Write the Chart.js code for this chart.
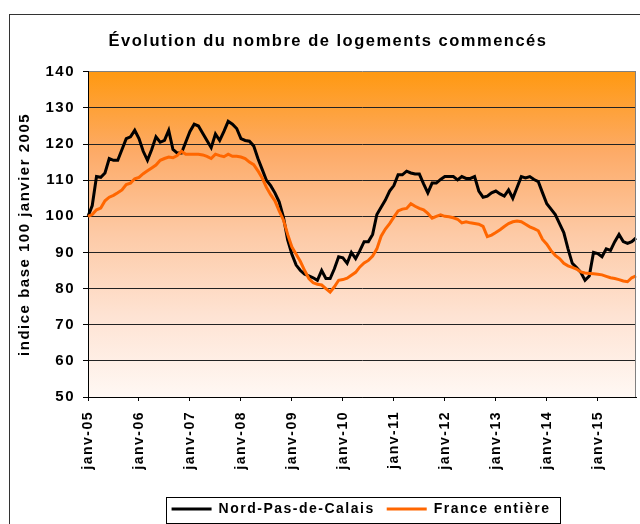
<!doctype html>
<html>
    <head>
        <meta charset="utf-8">
        <script src="https://cdn.jsdelivr.net/npm/chart.js"></script>
        <style>
            body {
                margin: 0px;
                background-color: white;
            }
            #box {
                width: 640px;
                height: 524px;
            }
        </style>
    </head>
    <body>
        <div id="box">
            <canvas id="myChart"></canvas>
        </div>

        <script>
        // monthly index, base 100 = janvier 2005
        const months = ['janv', 'févr', 'mars', 'avr', 'mai', 'juin', 'juil', 'août', 'sept', 'oct', 'nov', 'déc'];
        const years = ['05', '06', '07', '08', '09', '10', '11', '12', '13', '14', '15'];

        const nordPasDeCalais = [
            100, 103, 111, 110.8, 112, 116, 115.5, 115.5, 118.5, 121.5, 122, 123.8,
            121.5, 118, 115.5, 118.5, 122, 120.5, 121, 123.8, 118.5, 117.5, 117.5, 120.5,
            123.5, 125.5, 125, 123, 121, 119, 122.8, 121, 123.5, 126.3, 125.5, 124.3,
            121.5, 121, 120.8, 119.5, 116, 113, 110, 108.5, 106.5, 104, 99.8, 93.5,
            89.5, 86.5, 85, 84, 83.5, 83, 82.3, 85, 82.8, 82.8, 85.5, 88.8,
            88.5, 87, 90, 88.3, 90.5, 93, 93, 95, 100.5, 102.5, 104.5, 107,
            108.5, 111.5, 111.5, 112.5, 112, 111.7, 111.7, 109, 106.5, 109.2, 109.2, 110.2,
            111, 111, 111, 110.1, 111, 110.5, 110.5, 111, 107, 105.3, 105.6, 106.5,
            107, 106.2, 105.6, 107.3, 105, 108, 111, 110.6, 111, 110.2, 109.6, 106.5,
            103.5, 102, 100.5, 98, 95.5, 91, 87, 85.8, 84.5, 82.3, 83.5, 90,
            89.7, 88.8, 91, 90.6, 93, 95, 93, 92.5, 93, 94
        ];

        const franceEntiere = [
            100, 100.5, 101.8, 102.3, 104.3, 105.3, 105.8, 106.5, 107.3, 108.8, 109.2, 110.4,
            110.8, 111.8, 112.6, 113.4, 114.2, 115.5, 116, 116.4, 116.2, 116.8, 118, 117.2,
            117.2, 117.2, 117.2, 117, 116.6, 116, 117.2, 116.8, 116.5, 117.2, 116.6, 116.6,
            116.4, 116, 115, 114.3, 112.6, 110.6, 108, 106, 104.3, 101.5, 99, 95,
            91.5, 89.5, 87.5, 85, 82.8, 81.6, 81.2, 81, 80, 79, 80.5, 82.3,
            82.5, 82.9, 83.7, 84.5, 86, 87.1, 87.8, 89, 91, 94.5, 96.5, 98,
            99.8, 101.5, 102, 102.2, 103.5, 102.8, 102.2, 101.8, 100.8, 99.5, 100, 100.4,
            100, 99.9, 99.6, 99.2, 98.2, 98.5, 98.2, 98, 97.8, 97.2, 94.4, 94.8,
            95.5, 96.3, 97.2, 98, 98.5, 98.7, 98.5, 97.8, 97.1, 96.6, 96, 93.6,
            92.3, 90.5, 89.2, 88.3, 87, 86.3, 85.9, 85.4, 84.6, 84.3, 84.2, 84.1,
            84, 83.8, 83.4, 83, 82.8, 82.5, 82.1, 81.9, 83, 83.5
        ];

        const labels = [];
        years.forEach(y => months.forEach(m => labels.push(m + '-' + y)));
        labels.length = nordPasDeCalais.length;

        Chart.defaults.font.family = '"Liberation Sans", Arial, sans-serif';
        Chart.defaults.color = '#000';

        // Excel draws its text a bit spaced out
        const spacing = {
            id: 'spacing',
            beforeUpdate(chart) { chart.ctx.letterSpacing = '1.5px'; },
            beforeDraw(chart) { chart.ctx.letterSpacing = '1.5px'; }
        };

        const frame = {
            id: 'frame',
            afterLayout(chart) {
                // legend and title sit a little right of centre in the original
                const lg = chart.legend;
                lg.left += 38; lg.right += 38;
                lg.top += 4; lg.bottom += 4;
                const t = chart.titleBlock;
                t.left += 5; t.right += 5;
            },
            beforeDraw(chart) {
                const {ctx, chartArea: a} = chart;
                ctx.save();
                const g = ctx.createLinearGradient(0, a.top, 0, a.bottom);
                g.addColorStop(0, '#ff9911');
                g.addColorStop(0.25, '#fdab68');
                g.addColorStop(0.5, '#fdcaa6');
                g.addColorStop(0.75, '#fee3d3');
                g.addColorStop(1, '#fff8f4');
                ctx.fillStyle = g;
                ctx.fillRect(a.left, a.top, a.right - a.left, a.bottom - a.top);
                ctx.strokeStyle = '#333';
                ctx.lineWidth = 1;
                ctx.strokeRect(9.5, 14.5, 700, 600);
                ctx.restore();
            },
            afterDraw(chart) {
                const {ctx, chartArea: a, legend} = chart;
                ctx.save();
                ctx.strokeStyle = '#808080';
                ctx.lineWidth = 1;
                ctx.beginPath();
                ctx.moveTo(a.right - 0.5, a.top);
                ctx.lineTo(a.right - 0.5, a.bottom);
                ctx.stroke();
                const hb = legend.legendHitBoxes;
                const left = Math.min(...hb.map(b => b.left)) - 6;
                const right = Math.max(...hb.map(b => b.left + b.width)) + 9;
                const top = Math.min(...hb.map(b => b.top)) - 5;
                const bottom = Math.max(...hb.map(b => b.top + b.height)) + 7;
                ctx.strokeStyle = '#000';
                ctx.strokeRect(Math.round(left) + 0.5, Math.round(top) + 0.5, Math.round(right - left), Math.round(bottom - top));
                ctx.restore();
            }
        };

        const config = {
            type: 'line',
            data: {
                labels: labels,
                datasets: [{
                    label: 'Nord-Pas-de-Calais',
                    data: nordPasDeCalais,
                    borderColor: '#000000',
                    backgroundColor: '#000000',
                    borderWidth: 3,
                    pointRadius: 0,
                    tension: 0,
                    order: 1
                }, {
                    label: 'France entière',
                    data: franceEntiere,
                    borderColor: '#ff6600',
                    backgroundColor: '#ff6600',
                    borderWidth: 3,
                    pointRadius: 0,
                    tension: 0,
                    order: 0
                }]
            },
            options: {
                responsive: true,
                maintainAspectRatio: false,
                animation: false,
                layout: {
                    padding: {left: 10, right: 4, top: 14, bottom: 2}
                },
                plugins: {
                    title: {
                        display: true,
                        text: 'Évolution du nombre de logements commencés',
                        color: '#000',
                        font: {size: 16.5, weight: 'bold'},
                        padding: {top: 18, bottom: 20}
                    },
                    legend: {
                        position: 'bottom',
                        labels: {
                            usePointStyle: true,
                            pointStyle: 'line',
                            pointStyleWidth: 40,
                            padding: 12,
                            color: '#000',
                            font: {size: 14, weight: 'bold'},
                            sort: (a, b) => a.datasetIndex - b.datasetIndex
                        }
                    },
                    tooltip: {enabled: false}
                },
                scales: {
                    x: {
                        grid: {
                            drawOnChartArea: false,
                            tickLength: 4,
                            tickColor: c => c.index % 12 === 0 ? '#000' : 'rgba(0,0,0,0)'
                        },
                        border: {color: '#000', width: 1},
                        ticks: {
                            autoSkip: false,
                            minRotation: 90,
                            maxRotation: 90,
                            padding: 10,
                            font: {size: 14, weight: 'bold'},
                            callback: (v, i) => i % 12 === 0 ? labels[i] : ''
                        },
                        afterFit: s => { s.height = 89; s.paddingLeft = 0; s.paddingRight = 0; }
                    },
                    y: {
                        min: 50,
                        max: 140,
                        ticks: {
                            stepSize: 10,
                            padding: 8,
                            font: {size: 15, weight: 'bold'}
                        },
                        grid: {
                            color: c => c.tick.value === 140 ? '#808080' : '#222',
                            tickColor: '#000',
                            tickLength: 5
                        },
                        border: {color: '#000'},
                        title: {
                            display: true,
                            text: 'indice base 100 janvier 2005',
                            font: {size: 15, weight: 'bold'},
                            padding: {top: 6, bottom: 0}
                        },
                        afterFit: s => { s.width = 78; }
                    }
                }
            },
            plugins: [spacing, frame]
        };

        const myChart = new Chart(document.getElementById('myChart'), config);
        </script>
    </body>
</html>
